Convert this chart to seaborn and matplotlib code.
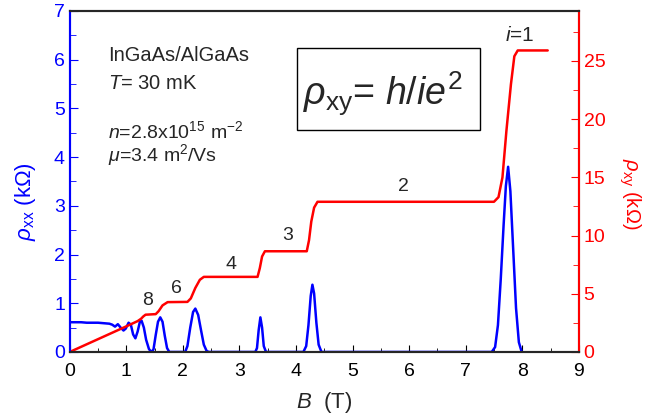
import matplotlib
matplotlib.use("Agg")
import matplotlib.pyplot as plt
import seaborn as sns
from matplotlib.patches import Rectangle
from matplotlib.ticker import MultipleLocator

# longitudinal resistivity rho_xx (kOhm) vs B (T)
b_xx = [0.0, 0.1, 0.2, 0.3, 0.4, 0.5, 0.6, 0.7, 0.75, 0.8, 0.85, 0.9, 0.95, 0.99,
        1.04, 1.08, 1.12, 1.16, 1.20, 1.24, 1.27, 1.31, 1.35, 1.40, 1.44, 1.48,
        1.52, 1.56, 1.60, 1.64, 1.68, 1.72, 1.76, 2.04, 2.08, 2.13, 2.18, 2.22,
        2.27, 2.32, 2.37, 2.42, 2.46, 3.28, 3.31, 3.34, 3.37, 3.40, 3.43, 3.47,
        4.13, 4.18, 4.22, 4.26, 4.29, 4.32, 4.36, 4.40, 4.45, 7.46, 7.52, 7.57,
        7.62, 7.67, 7.71, 7.75, 7.79, 7.84, 7.89, 7.94, 7.99]
rho_xx = [0.61, 0.61, 0.61, 0.60, 0.60, 0.60, 0.59, 0.58, 0.56, 0.52, 0.57, 0.50, 0.44, 0.48,
          0.60, 0.56, 0.36, 0.28, 0.42, 0.62, 0.64, 0.50, 0.25, 0.06, 0.0, 0.05,
          0.35, 0.62, 0.71, 0.62, 0.33, 0.08, 0.0, 0.0, 0.12, 0.50, 0.82, 0.89,
          0.76, 0.45, 0.15, 0.02, 0.0, 0.0, 0.08, 0.45, 0.71, 0.50, 0.12, 0.0,
          0.0, 0.12, 0.55, 1.15, 1.38, 1.20, 0.60, 0.15, 0.0, 0.0, 0.10, 0.55,
          1.50, 2.60, 3.40, 3.80, 3.30, 2.10, 0.90, 0.20, 0.0]

# Hall resistivity rho_xy (kOhm) vs B (T)
b_xy = [0.0, 0.5, 1.0, 1.2, 1.26, 1.30, 1.34, 1.52, 1.57, 1.64, 1.73, 2.08, 2.14,
        2.22, 2.30, 2.37, 3.32, 3.36, 3.40, 3.45, 4.19, 4.23, 4.27, 4.32, 4.38,
        7.50, 7.58, 7.65, 7.72, 7.80, 7.86, 7.92, 8.45]
rho_xy = [0.0, 1.1, 2.2, 2.65, 2.85, 3.05, 3.2, 3.25, 3.5, 4.0, 4.28, 4.3, 4.6,
          5.5, 6.2, 6.45, 6.45, 7.2, 8.2, 8.65, 8.65, 9.6, 11.2, 12.4, 12.9,
          12.9, 13.3, 15.0, 19.0, 23.0, 25.4, 25.9, 25.9]

# filling factor labels
nu_labels = ["8", "6", "4", "3", "2"]
nu_x = [1.37, 1.88, 2.85, 3.85, 5.9]
nu_y = [1.05, 1.3, 1.8, 2.4, 3.4]

sns.set_style("ticks")
plt.rcParams["font.family"] = ["Liberation Sans", "DejaVu Sans"]
plt.rcParams["mathtext.fontset"] = "custom"
plt.rcParams["mathtext.rm"] = "Liberation Sans"
plt.rcParams["mathtext.it"] = "Liberation Sans:italic"

fig, ax = plt.subplots(figsize=(6.46, 4.18), dpi=100)
fig.subplots_adjust(left=0.108, right=0.896, bottom=0.158, top=0.974)
ax2 = ax.twinx()

sns.lineplot(x=b_xx, y=rho_xx, ax=ax, color="blue", lw=1.8)
sns.lineplot(x=b_xy, y=rho_xy, ax=ax2, color="red", lw=1.8)

ax.set_xlim(0, 9)
ax.set_ylim(0, 7)
ax2.set_ylim(0, 29.3)

ax.xaxis.set_major_locator(MultipleLocator(1))
ax.xaxis.set_minor_locator(MultipleLocator(0.5))
ax.yaxis.set_major_locator(MultipleLocator(1))
ax.yaxis.set_minor_locator(MultipleLocator(0.5))
ax2.yaxis.set_major_locator(MultipleLocator(5))
ax2.yaxis.set_minor_locator(MultipleLocator(2.5))

ax.tick_params(axis="x", which="both", direction="in", colors="black", labelsize=14, top=False, pad=8)
ax.tick_params(axis="x", which="major", length=5)
ax.tick_params(axis="x", which="minor", length=3)
ax.tick_params(axis="y", which="both", direction="in", colors="blue", labelsize=14)
ax.tick_params(axis="y", which="major", length=6)
ax.tick_params(axis="y", which="minor", length=4)
ax2.tick_params(axis="y", which="both", direction="in", colors="red", labelsize=14)
ax2.tick_params(axis="y", which="major", length=6)
ax2.tick_params(axis="y", which="minor", length=4)

ax.spines["left"].set_color("blue")
ax2.spines["left"].set_color("blue")
ax2.spines["right"].set_color("red")
for a in (ax, ax2):
    for s in a.spines.values():
        s.set_linewidth(1.5)

ax.set_xlabel("$B$  (T)", fontsize=16)
ax.xaxis.set_label_coords(0.5, -0.112)
ax.set_ylabel(r"$\rho_{\rm xx}$ (k$\Omega$)", fontsize=16, color="blue")
ax.yaxis.set_label_coords(-0.063, 0.44)
ax2.set_ylabel(r"$\rho_{\rm xy}$ (k$\Omega$)", fontsize=14.5, color="red", rotation=270, va="center")
ax2.yaxis.set_label_coords(1.1, 0.463)

for lab, x, y in zip(nu_labels, nu_x, nu_y):
    ax.text(x, y, lab, fontsize=14, ha="center", va="center")
ax.text(7.95, 6.5, "$i$=1", fontsize=15, ha="center", va="center")

ax.text(0.67, 6.09, "InGaAs/AlGaAs", fontsize=14.5, ha="left", va="center")
ax.text(0.67, 5.50, "$T$= 30 mK", fontsize=14.5, ha="left", va="center")
ax.text(0.67, 4.53, r"$n$=2.8x10$^{15}$ m$^{-2}$", fontsize=14, ha="left", va="center")
ax.text(0.67, 4.04, r"$\mu$=3.4 m$^{2}$/Vs", fontsize=14, ha="left", va="center")

ax.add_patch(Rectangle((0.446, 0.651), 0.36, 0.24, transform=ax.transAxes,
                       fc="white", ec="black", lw=1.0, zorder=3))
ax.text(5.53, 5.30, r"$\rho_{\rm xy}$= $h/ie^{2}$", fontsize=27, ha="center", va="center", zorder=4)

fig.savefig("out.png", dpi=100)
